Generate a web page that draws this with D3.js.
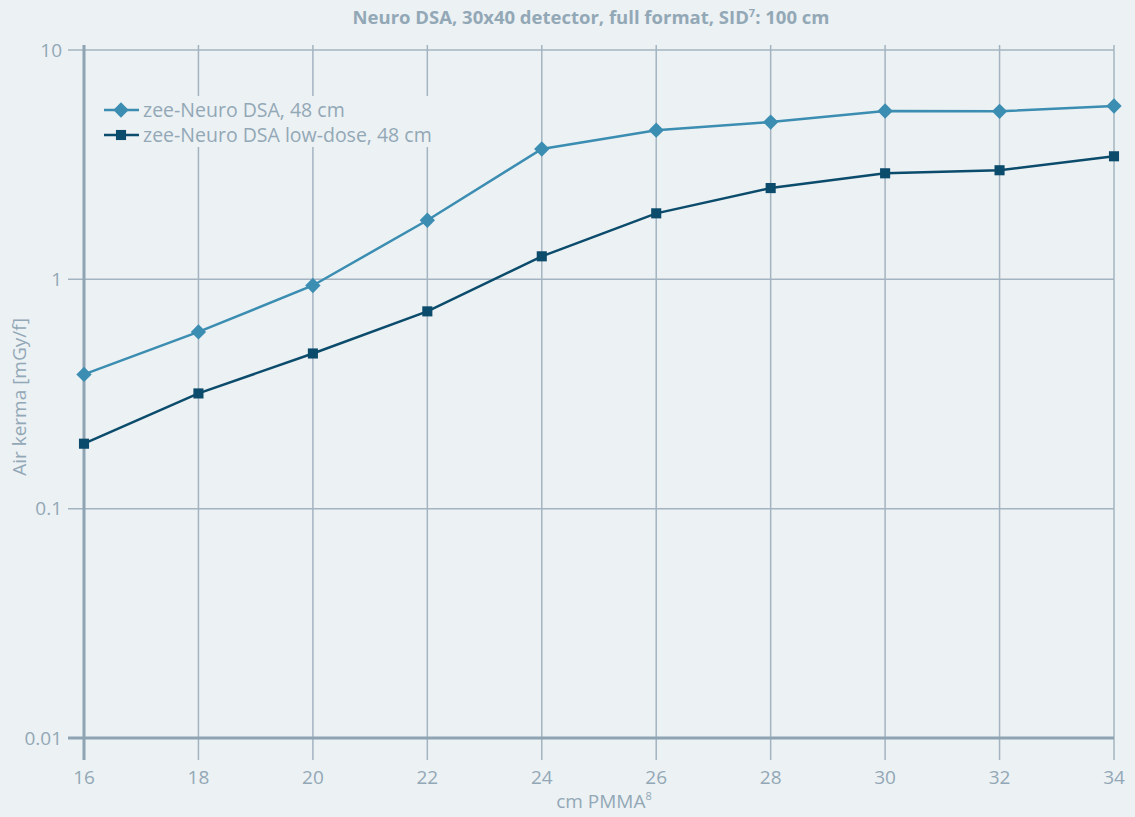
<!DOCTYPE html>
<html>
<head>
<meta charset="utf-8">
<script src="https://cdn.jsdelivr.net/npm/d3@7"></script>
<style>
  body { margin: 0; background: #ecf1f4; }
  svg { display: block; font-family: "Open Sans", "Noto Sans", sans-serif; }
</style>
</head>
<body>
<div id="chart"></div>
<script>
const thickness = [16, 18, 20, 22, 24, 26, 28, 30, 32, 34];
const standardDose = [0.385, 0.59, 0.94, 1.81, 3.7, 4.47, 4.85, 5.42, 5.4, 5.7];
const lowDose = [0.192, 0.318, 0.475, 0.725, 1.26, 1.94, 2.5, 2.9, 2.99, 3.44];
const yTicks = [0.01, 0.1, 1, 10];
const seriesNames = ['zee-Neuro DSA, 48 cm', 'zee-Neuro DSA low-dose, 48 cm'];
const seriesColors = ['#3b8db1', '#0b4b6b'];

const W = 1135, H = 817;
const TEXT = '#93a8b6';
const GRID = '#a3b4c0';
const AXIS = '#8ea4b2';

const svg = d3.select('#chart').append('svg')
    .attr('width', W)
    .attr('height', H);

svg.append('rect').attr('width', W).attr('height', H).attr('fill', '#ecf1f4');

const x = d3.scaleLinear().domain([16, 34]).range([84, 1114]);
const y = d3.scaleLog().domain([0.01, 10]).range([738, 50]);

// vertical grid lines
svg.append('g').selectAll('line')
    .data(thickness)
    .enter()
    .append('line')
    .attr('x1', d => x(d)).attr('x2', d => x(d))
    .attr('y1', 45).attr('y2', 760)
    .attr('stroke', GRID)
    .attr('stroke-width', 1.5);

// horizontal grid lines
svg.append('g').selectAll('line')
    .data(yTicks)
    .enter()
    .append('line')
    .attr('x1', 68).attr('x2', x(34))
    .attr('y1', d => y(d)).attr('y2', d => y(d))
    .attr('stroke', GRID)
    .attr('stroke-width', 1.5);

// axis lines
svg.append('line')
    .attr('x1', x(16)).attr('x2', x(16))
    .attr('y1', 45).attr('y2', 760)
    .attr('stroke', AXIS).attr('stroke-width', 3);
svg.append('line')
    .attr('x1', 68).attr('x2', x(34))
    .attr('y1', y(0.01)).attr('y2', y(0.01))
    .attr('stroke', AXIS).attr('stroke-width', 3);

// tick labels
svg.append('g').selectAll('text')
    .data(yTicks)
    .enter()
    .append('text')
    .attr('x', 62)
    .attr('y', d => y(d))
    .attr('dy', '0.35em')
    .attr('text-anchor', 'end')
    .attr('font-size', '19px')
    .attr('fill', TEXT)
    .text(d => d3.format('')(d));

svg.append('g').selectAll('text')
    .data(thickness)
    .enter()
    .append('text')
    .attr('x', d => x(d))
    .attr('y', 784)
    .attr('text-anchor', 'middle')
    .attr('font-size', '19px')
    .attr('fill', TEXT)
    .text(d => d);

// title & axis titles
const title = svg.append('text')
    .attr('x', 591).attr('y', 24)
    .attr('text-anchor', 'middle')
    .attr('font-size', '18.5px')
    .attr('font-weight', 'bold')
    .attr('fill', TEXT);
title.append('tspan').text('Neuro DSA, 30x40 detector, full format, SID');
title.append('tspan').attr('font-size', '11px').attr('dy', '-7').text('7');
title.append('tspan').attr('dy', '7').text(': 100 cm');

const xTitle = svg.append('text')
    .attr('x', 604).attr('y', 808)
    .attr('text-anchor', 'middle')
    .attr('font-size', '19px')
    .attr('fill', TEXT);
xTitle.append('tspan').text('cm PMMA');
xTitle.append('tspan').attr('font-size', '11px').attr('dy', '-8').text('8');

svg.append('text')
    .attr('transform', `translate(26,${(318 + 476) / 2}) rotate(-90)`)
    .attr('text-anchor', 'middle')
    .attr('font-size', '19px')
    .attr('fill', TEXT)
    .text('Air kerma [mGy/f]');

// series
const series = [standardDose, lowDose];
const line = d3.line()
    .x((d, i) => x(thickness[i]))
    .y(d => y(d));

const diamond = d3.symbol().type(d3.symbolDiamond2).size(150);
const square = d3.symbol().type(d3.symbolSquare2).size(130);
const shapes = [diamond, square];

series.forEach((vals, si) => {
    svg.append('path')
        .datum(vals)
        .attr('d', line)
        .attr('fill', 'none')
        .attr('stroke', seriesColors[si])
        .attr('stroke-width', 2.5);
    svg.append('g').selectAll('path')
        .data(vals)
        .enter()
        .append('path')
        .attr('transform', (d, i) => `translate(${x(thickness[i])},${y(d)})`)
        .attr('d', shapes[si]())
        .attr('fill', seriesColors[si]);
});

// legend
const legend = svg.append('g');
seriesNames.forEach((name, i) => {
    const ly = 110 + i * 25;
    legend.append('rect')
        .attr('x', 98).attr('y', ly - 14)
        .attr('width', 340).attr('height', 26)
        .attr('fill', '#ecf1f4');
    legend.append('line')
        .attr('x1', 104).attr('x2', 139)
        .attr('y1', ly).attr('y2', ly)
        .attr('stroke', seriesColors[i])
        .attr('stroke-width', 2.5);
    legend.append('path')
        .attr('transform', `translate(121,${ly})`)
        .attr('d', shapes[i]())
        .attr('fill', seriesColors[i]);
    legend.append('text')
        .attr('x', 143).attr('y', ly)
        .attr('dy', '0.35em')
        .attr('font-size', '19.5px')
        .attr('fill', TEXT)
        .text(name);
});
</script>
</body>
</html>
